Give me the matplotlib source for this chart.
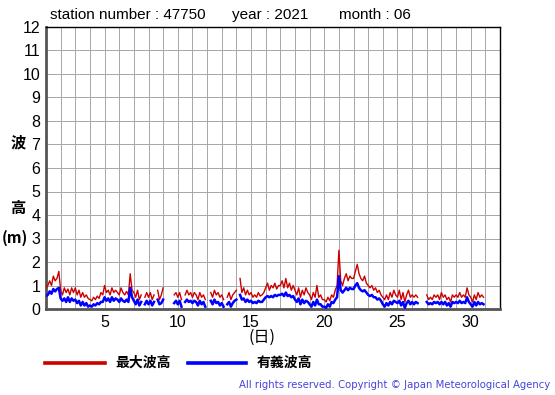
import numpy as np
import matplotlib
matplotlib.use("Agg")
import matplotlib.pyplot as plt
from matplotlib.lines import Line2D

N = None

# 3-hourly values per day (00,03,...,21h), June 2021, station 47750
max_wave = [
    0.9, 1.0, 1.2, 1.0, 1.4, 1.2, 1.3, 1.6,   # 1
    0.8, 0.6, 0.9, 0.7, 0.85, 0.6, 0.9, 0.7,  # 2
    0.9, 0.6, 0.8, 0.5, 0.7, 0.5, 0.6, 0.45,  # 3
    0.4, 0.35, 0.5, 0.4, 0.55, 0.45, 0.7, 0.6,  # 4
    1.0, 0.7, 0.8, 0.6, 0.9, 0.7, 0.8, 0.7,   # 5
    0.6, 0.9, 0.7, 0.6, 0.75, 0.6, 1.5, 0.8,  # 6
    0.7, 0.5, 0.8, 0.4, 0.6, N, 0.5, 0.7,     # 7
    0.5, 0.7, 0.4, 0.6, N, 0.8, 0.4, 0.6,     # 8
    0.9, N, N, N, N, N, 0.6, 0.7,             # 9
    0.5, 0.7, 0.4, N, 0.6, 0.8, 0.6, 0.7,     # 10
    0.5, 0.7, 0.6, 0.4, 0.7, 0.5, 0.6, 0.4,   # 11
    N, N, 0.7, 0.5, 0.8, 0.6, 0.7, 0.5,       # 12
    0.6, 0.4, N, 0.5, 0.7, 0.4, 0.6, 0.7,     # 13
    0.8, N, 1.3, 0.7, 0.9, 0.6, 0.8, 0.6,     # 14
    0.7, 0.5, 0.6, 0.5, 0.7, 0.55, 0.6, 0.7,  # 15
    0.9, 1.1, 0.8, 1.0, 0.9, 1.1, 0.85, 1.0,  # 16
    1.0, 1.2, 0.9, 1.3, 0.9, 1.1, 0.8, 1.0,   # 17
    0.8, 0.6, 0.9, 0.5, 0.8, 0.6, 0.9, 0.7,   # 18
    0.6, 0.4, 0.7, 0.5, 1.0, 0.5, 0.6, 0.4,   # 19
    0.4, 0.3, 0.5, 0.35, 0.6, 0.5, 0.8, 1.0,  # 20
    2.5, 1.2, 1.0, 1.3, 1.5, 1.2, 1.4, 1.3,   # 21
    1.3, 1.6, 1.9, 1.5, 1.3, 1.2, 1.4, 1.1,   # 22
    1.0, 0.9, 1.0, 0.8, 0.9, 0.7, 0.8, 0.6,   # 23
    0.5, 0.4, 0.6, 0.4, 0.7, 0.5, 0.8, 0.6,   # 24
    0.5, 0.8, 0.4, 0.7, 0.3, 0.6, 0.8, 0.5,   # 25
    0.6, 0.5, 0.6, 0.5, N, N, N, N,           # 26
    0.6, 0.4, 0.5, 0.4, 0.6, 0.5, 0.6, 0.4,   # 27
    0.7, 0.5, 0.6, 0.4, 0.5, 0.3, 0.6, 0.5,   # 28
    0.6, 0.5, 0.7, 0.5, 0.6, 0.5, 0.9, 0.6,   # 29
    0.5, 0.3, 0.6, 0.4, 0.7, 0.5, 0.6, 0.5,   # 30
]

sig_wave = [
    0.55, 0.6, 0.75, 0.65, 0.85, 0.75, 0.85, 0.9,  # 1
    0.45, 0.35, 0.45, 0.3, 0.5, 0.3, 0.45, 0.35,   # 2
    0.4, 0.25, 0.35, 0.15, 0.3, 0.15, 0.25, 0.1,   # 3
    0.15, 0.1, 0.2, 0.15, 0.25, 0.2, 0.3, 0.3,     # 4
    0.5, 0.35, 0.45, 0.3, 0.5, 0.35, 0.45, 0.4,    # 5
    0.3, 0.45, 0.35, 0.3, 0.4, 0.3, 0.9, 0.5,      # 6
    0.35, 0.2, 0.4, 0.15, 0.3, N, 0.2, 0.35,       # 7
    0.2, 0.35, 0.15, 0.3, N, 0.4, 0.2, 0.25,       # 8
    0.4, N, N, N, N, N, 0.25, 0.35,                # 9
    0.2, 0.35, 0.1, N, 0.3, 0.4, 0.3, 0.35,        # 10
    0.25, 0.35, 0.3, 0.15, 0.35, 0.2, 0.3, 0.1,    # 11
    N, N, 0.35, 0.2, 0.4, 0.25, 0.3, 0.15,         # 12
    0.25, 0.1, N, 0.2, 0.3, 0.1, 0.25, 0.35,       # 13
    0.4, N, 0.6, 0.4, 0.45, 0.3, 0.4, 0.3,         # 14
    0.35, 0.25, 0.3, 0.25, 0.35, 0.3, 0.3, 0.4,    # 15
    0.5, 0.55, 0.5, 0.55, 0.5, 0.6, 0.55, 0.6,     # 16
    0.6, 0.65, 0.55, 0.7, 0.55, 0.6, 0.5, 0.55,    # 17
    0.4, 0.3, 0.45, 0.2, 0.4, 0.25, 0.35, 0.3,     # 18
    0.2, 0.1, 0.3, 0.15, 0.4, 0.2, 0.2, 0.1,       # 19
    0.1, 0.05, 0.2, 0.1, 0.3, 0.25, 0.4, 0.5,      # 20
    1.4, 0.8, 0.7, 0.8, 0.9, 0.8, 0.9, 0.85,       # 21
    0.85, 1.0, 1.1, 0.9, 0.8, 0.75, 0.8, 0.7,      # 22
    0.6, 0.55, 0.6, 0.5, 0.5, 0.4, 0.45, 0.35,     # 23
    0.2, 0.1, 0.25, 0.15, 0.3, 0.2, 0.35, 0.3,     # 24
    0.25, 0.35, 0.15, 0.3, 0.05, 0.25, 0.35, 0.2,  # 25
    0.3, 0.2, 0.3, 0.25, N, N, N, N,               # 26
    0.3, 0.2, 0.25, 0.2, 0.3, 0.25, 0.3, 0.2,      # 27
    0.3, 0.2, 0.3, 0.15, 0.25, 0.1, 0.3, 0.25,     # 28
    0.3, 0.25, 0.35, 0.25, 0.3, 0.25, 0.5, 0.3,    # 29
    0.2, 0.1, 0.3, 0.15, 0.3, 0.2, 0.25, 0.2,      # 30
]

day_ticks = [5, 10, 15, 20, 25, 30]
y_ticks = list(range(0, 13))

red = '#cc0000'
blue = '#0000ff'
grid_col = '#a6a6a6'

W, H = 555, 395
fig = plt.figure(figsize=(W / 100, H / 100), dpi=100)
fig.patch.set_facecolor('white')

# axes box in pixels: left 46, right 500, top 27, bottom 309
ax = fig.add_axes([46 / W, 1 - 309 / H, (500 - 46) / W, (309 - 27) / H])

t = 1 + np.arange(len(max_wave)) / 8.0
mx = np.array([np.nan if v is None else v for v in max_wave], dtype=float)
sg = np.array([np.nan if v is None else v for v in sig_wave], dtype=float)

ax.plot(t, mx, color=red, lw=1.0, zorder=3)
ax.plot(t, sg, color=blue, lw=1.8, zorder=4)

ax.set_xlim(1, 32)
ax.set_ylim(0, 12)
ax.set_xticks(np.arange(1, 33), minor=True)
ax.set_xticks(day_ticks)
ax.set_yticks(y_ticks)
ax.grid(True, which='both', color=grid_col, lw=0.7)
ax.tick_params(which='both', length=0)
ax.tick_params(axis='y', pad=4, labelsize=11.5)
ax.tick_params(axis='x', pad=4, labelsize=11.5)
for lab in ax.get_xticklabels() + ax.get_yticklabels():
    lab.set_family('Liberation Sans')

for s in ['top', 'right']:
    ax.spines[s].set_color('black')
    ax.spines[s].set_linewidth(1.0)
for s in ['left', 'bottom']:
    ax.spines[s].set_color('#555555')
    ax.spines[s].set_linewidth(2.0)

# title line
ft = dict(family='Liberation Sans', fontsize=11, va='center', ha='left')
fig.text(50 / W, 1 - 15 / H, 'station number : 47750', **ft)
fig.text(232 / W, 1 - 15 / H, 'year : 2021', **ft)
fig.text(339 / W, 1 - 15 / H, 'month : 06', **ft)

cjk = ['Noto Sans CJK JP', 'DejaVu Sans']
fig.text(18 / W, 1 - 142 / H, '波', family=cjk, fontsize=11, fontweight='bold', ha='center', va='center')
fig.text(18 / W, 1 - 208 / H, '高', family=cjk, fontsize=11, fontweight='bold', ha='center', va='center')
fig.text(15 / W, 1 - 238 / H, '(m)', family=cjk, fontsize=11, fontweight='bold', ha='center', va='center')
fig.text(262 / W, 1 - 337 / H, '(日)', family=cjk, fontsize=11.5, ha='center', va='center')

# legend
fig.add_artist(Line2D([45 / W, 105 / W], [1 - 363 / H] * 2, color=red, lw=2.6, transform=fig.transFigure))
fig.text(115 / W, 1 - 363 / H, '最大波高', family=cjk, fontsize=10, fontweight='bold', va='center', ha='left')
fig.add_artist(Line2D([188 / W, 246 / W], [1 - 363 / H] * 2, color=blue, lw=2.6, transform=fig.transFigure))
fig.text(257 / W, 1 - 363 / H, '有義波高', family=cjk, fontsize=10, fontweight='bold', va='center', ha='left')

fig.text(550 / W, 1 - 385 / H, 'All rights reserved. Copyright © Japan Meteorological Agency',
         family='DejaVu Sans', fontsize=7.3, color='#4444dd', ha='right', va='center')

fig.savefig('out.png', dpi=100, facecolor='white')
